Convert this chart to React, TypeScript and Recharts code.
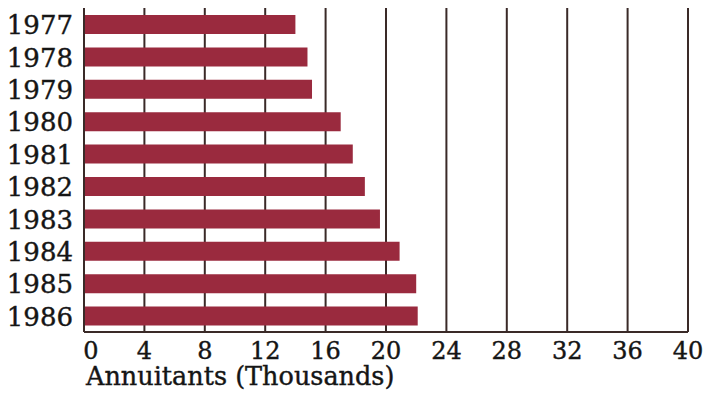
import React from 'react';
import { BarChart, Bar, XAxis, YAxis, CartesianGrid } from 'recharts';

// Annuitants per year, in thousands
const years = ['1977', '1978', '1979', '1980', '1981', '1982', '1983', '1984', '1985', '1986'];
const annuitants = [14.0, 14.8, 15.1, 17.0, 17.8, 18.6, 19.6, 20.9, 22.0, 22.1];
const xTicks = [0, 4, 8, 12, 16, 20, 24, 28, 32, 36, 40];

const BAR_COLOR = '#9a2a3e';
const LINE_COLOR = '#3a2a28';
const TEXT_COLOR = '#151515';
const FONT = '"DejaVu Serif", serif';

const data = years.map((year, i) => ({ year, value: annuitants[i] }));

const XTick = (props: any) => {
  const { x, y, payload } = props;
  // the zero label sits a little inside the frame
  const dx = payload.value === 0 ? 7 : 0;
  return (
    <text x={x + dx} y={y + 19} textAnchor="middle" fontFamily={FONT} fontSize={24}
      fill={TEXT_COLOR} stroke={TEXT_COLOR} strokeWidth={0.4}>
      {payload.value}
    </text>
  );
};

const YTick = (props: any) => {
  const { x, y, payload } = props;
  return (
    <text x={x} y={y + 10} textAnchor="end" fontFamily={FONT} fontSize={26}
      fill={TEXT_COLOR} stroke={TEXT_COLOR} strokeWidth={0.4}>
      {payload.value}
    </text>
  );
};

const AxisTitle = (props: any) => {
  const { viewBox } = props;
  return (
    <text x={viewBox.x + 2} y={viewBox.y + 53} fontFamily={FONT} fontSize={25.5}
      fill={TEXT_COLOR} stroke={TEXT_COLOR} strokeWidth={0.4}>
      Annuitants (Thousands)
    </text>
  );
};

export default function App() {
  return (
    <div style={{ position: 'absolute', top: 0, left: 0, width: 717, height: 394, background: '#fff' }}>
      <BarChart
        width={717}
        height={394}
        data={data}
        layout="vertical"
        margin={{ top: 8, right: 29, bottom: 0, left: 0 }}
      >
        <CartesianGrid horizontal={false} stroke={LINE_COLOR} strokeWidth={2} />
        <XAxis
          type="number"
          dataKey="value"
          domain={[0, 40]}
          ticks={xTicks}
          interval={0}
          height={62}
          tickLine={false}
          axisLine={{ stroke: LINE_COLOR, strokeWidth: 2 }}
          tick={<XTick />}
          label={<AxisTitle />}
        />
        <XAxis
          xAxisId="top"
          orientation="top"
          type="number"
          domain={[0, 40]}
          height={0}
          tick={false}
          tickLine={false}
          axisLine={{ stroke: LINE_COLOR, strokeWidth: 2 }}
        />
        <YAxis
          type="category"
          dataKey="year"
          width={84}
          tickLine={false}
          axisLine={{ stroke: LINE_COLOR, strokeWidth: 2 }}
          tickMargin={5}
          tick={<YTick />}
        />
        <Bar dataKey="value" fill={BAR_COLOR} barSize={19} isAnimationActive={false} />
      </BarChart>
    </div>
  );
}
